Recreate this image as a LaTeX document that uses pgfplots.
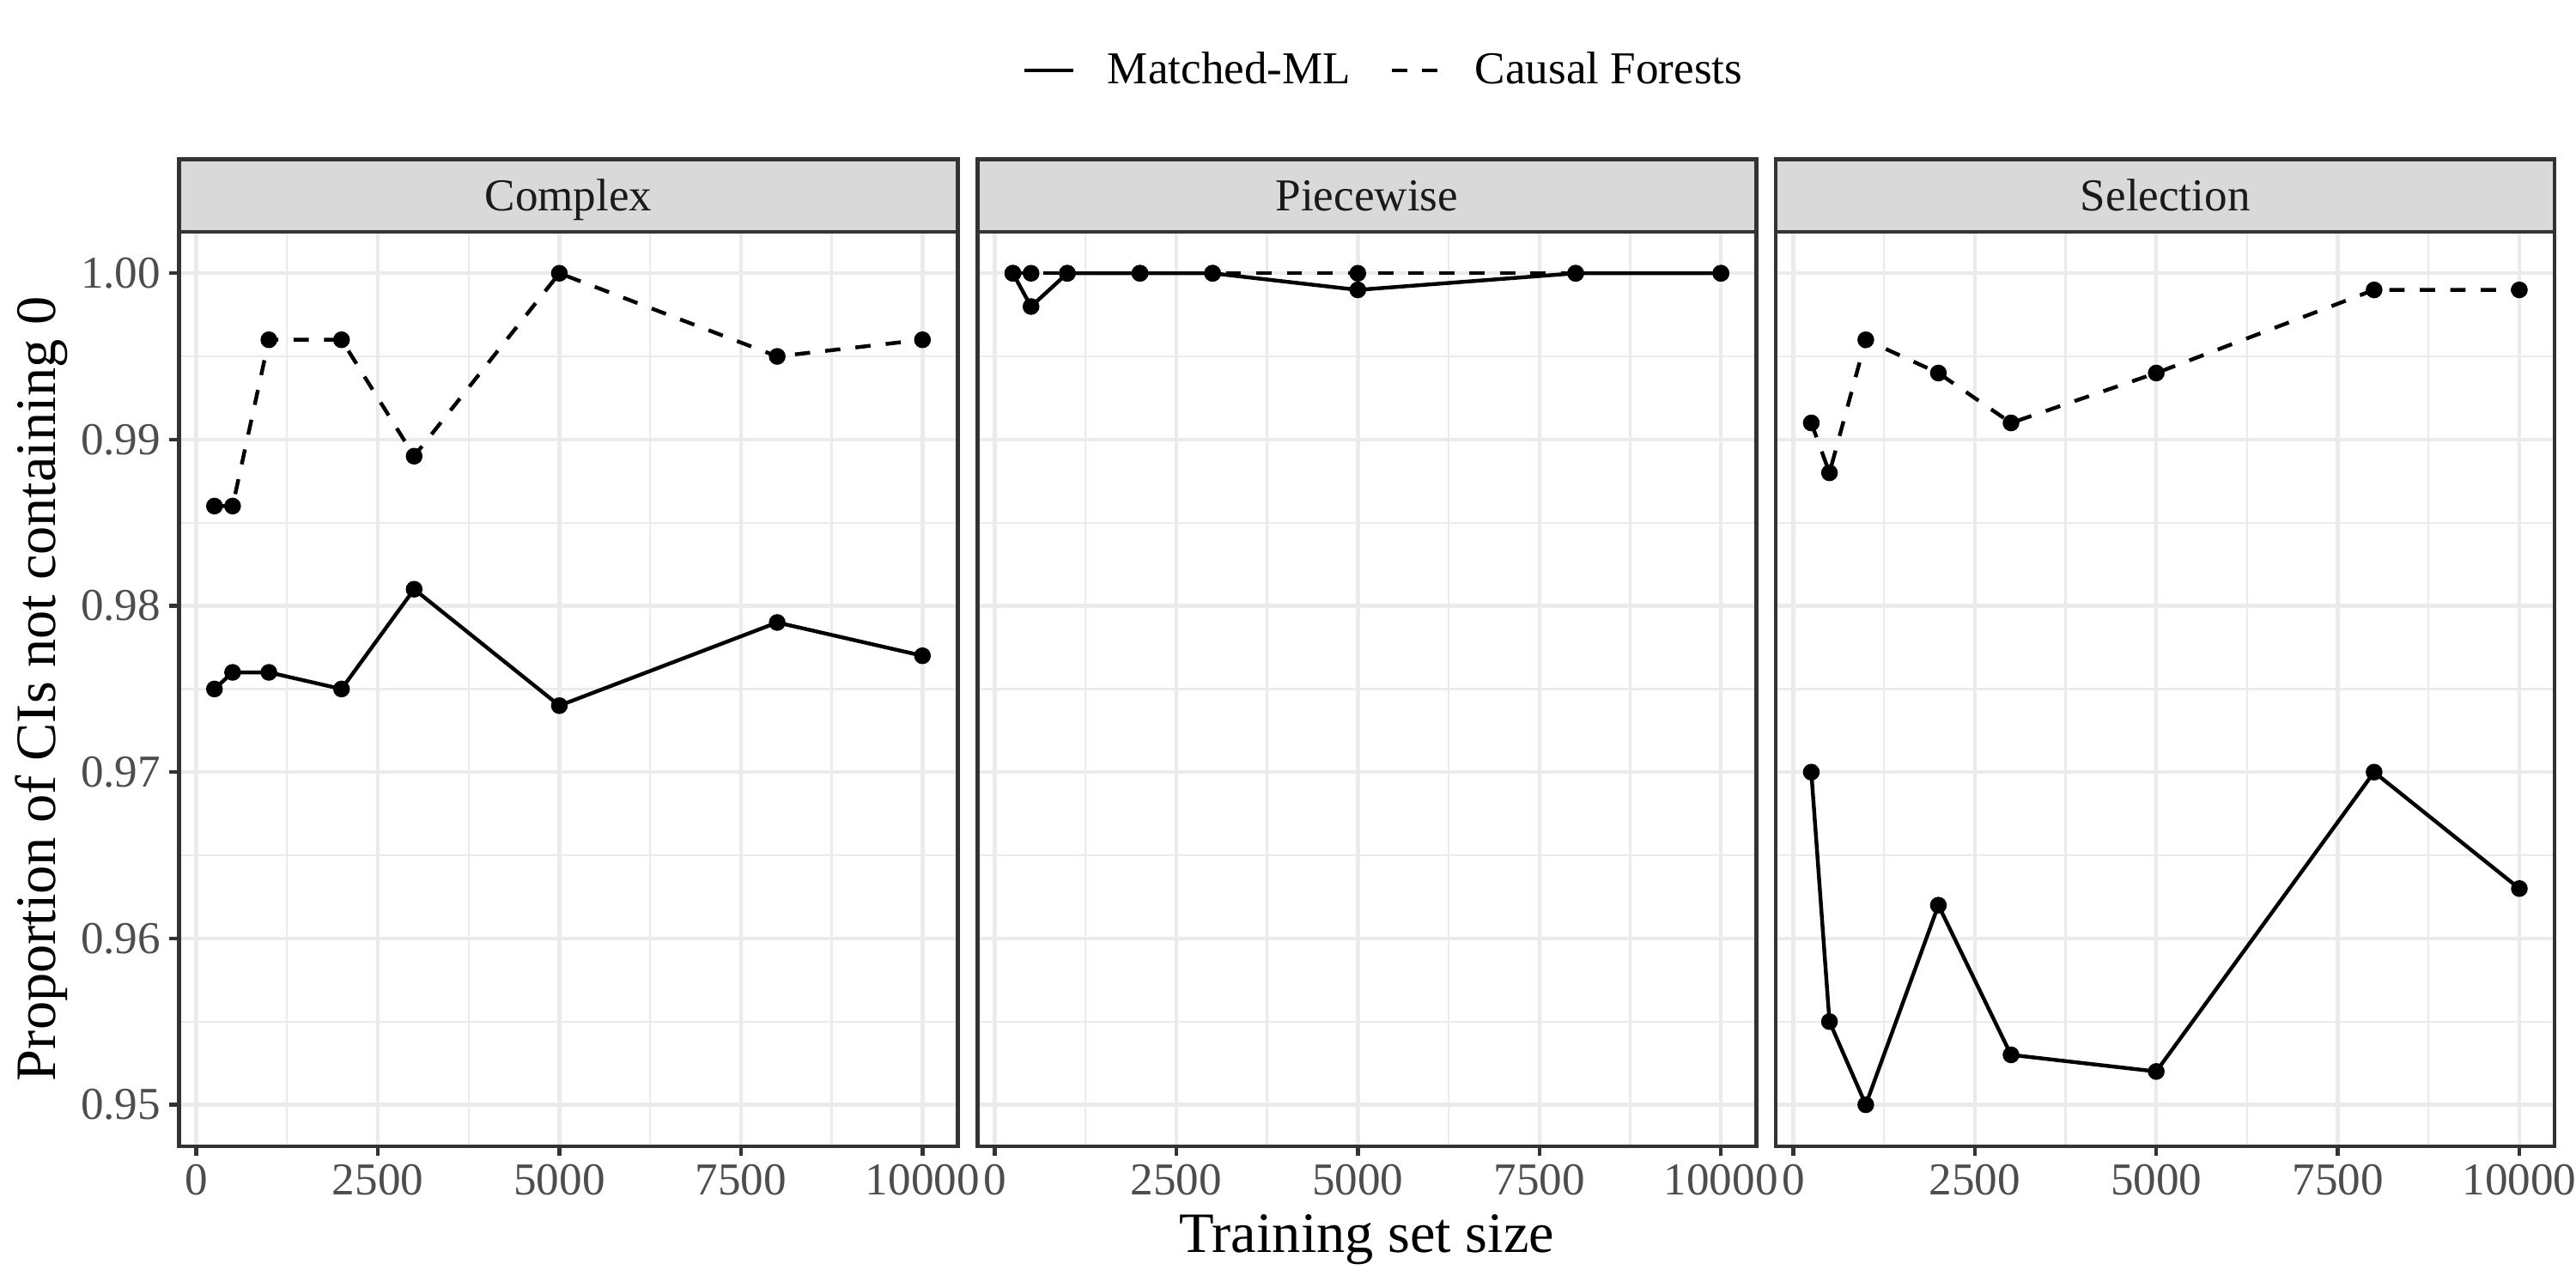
\documentclass[border=0pt]{standalone}
\usepackage{fontspec}
\setmainfont{Liberation Serif}
\usepackage{pgfplots}
\pgfplotsset{compat=1.18}
\usepackage{pgfplotstable}

\definecolor{g92}{HTML}{EBEBEB}
\definecolor{g85}{HTML}{D9D9D9}
\definecolor{g20}{HTML}{333333}
\definecolor{g30}{HTML}{4D4D4D}
\definecolor{g10}{HTML}{1A1A1A}

\pgfplotstableread{
x ml cf
250 0.975 0.986
500 0.976 0.986
1000 0.976 0.996
2000 0.975 0.996
3000 0.981 0.989
5000 0.974 1.000
8000 0.979 0.995
10000 0.977 0.996
}\complexdata

\pgfplotstableread{
x ml cf
250 1.000 1.000
500 0.998 1.000
1000 1.000 1.000
2000 1.000 1.000
3000 1.000 1.000
5000 0.999 1.000
8000 1.000 1.000
10000 1.000 1.000
}\piecewisedata

\pgfplotstableread{
x ml cf
250 0.970 0.991
500 0.955 0.988
1000 0.950 0.996
2000 0.962 0.994
3000 0.953 0.991
5000 0.952 0.994
8000 0.970 0.999
10000 0.963 0.999
}\selectiondata

\newcommand{\smallfont}{\fontsize{12.8}{15}\selectfont}
\newcommand{\bigfont}{\fontsize{16}{19}\selectfont}

\pgfplotsset{
  panel/.style={
    scale only axis, width=218.5pt, height=256.6pt,
    anchor=south west,
    xmin=-237.5, xmax=10487.5, ymin=0.9475, ymax=1.0025,
    scaled x ticks=false, scaled y ticks=false,
    xtick={0,2500,5000,7500,10000},
    xticklabels={0,2500,5000,7500,10000},
    ytick={0.95,0.96,0.97,0.98,0.99,1.00},
    yticklabels={0.95,0.96,0.97,0.98,0.99,1.00},
    minor x tick num=1, minor y tick num=1,
    grid=both,
    major grid style={draw=g92, line width=1.07pt},
    minor grid style={draw=g92, line width=0.53pt},
    tick align=outside, major tick length=2.75pt, minor tick length=0pt,
    xtick pos=bottom, ytick pos=left,
    tick style={draw=g20, line width=1.07pt},
    axis line style={draw=g20, line width=1.07pt},
    ticklabel style={font=\smallfont, text=g30, inner sep=0pt},
    xticklabel style={anchor=north, yshift=-2.2pt},
    yticklabel style={anchor=east, xshift=-2.2pt},
    clip mode=individual,
  },
  mlline/.style={black, line width=1.07pt, no markers},
  cfline/.style={black, line width=1.07pt, no markers, dash pattern=on 4.27pt off 4.27pt},
  pts/.style={only marks, mark=*, mark size=2.15pt, mark options={solid, fill=black, draw=black}},
}

\newcommand{\strip}[1]{%
  \draw[fill=g85, draw=g20, line width=1.07pt] (rel axis cs:0,1) rectangle ([yshift=20.3pt]rel axis cs:1,1);
  \node[font=\smallfont, text=g10, anchor=base] at ([yshift=5.9pt]rel axis cs:0.5,1) {#1};
}

\begin{document}
\begin{tikzpicture}
\useasboundingbox (-50.23pt,-39.75pt) rectangle (672.47pt,321.6pt);

% Complex
\begin{axis}[panel, at={(0pt,0pt)}]
\addplot[cfline, forget plot] table[x=x, y=cf] {\complexdata};
\addplot[mlline, forget plot] table[x=x, y=ml] {\complexdata};
\addplot[pts, forget plot] table[x=x, y=ml] {\complexdata};
\addplot[pts, forget plot] table[x=x, y=cf] {\complexdata};
\strip{Complex}
\node[rotate=90, font=\bigfont, anchor=center] at ([xshift=-38.7pt]rel axis cs:0,0.5) {Proportion of CIs not containing 0};
\end{axis}

% Piecewise
\begin{axis}[panel, at={(224pt,0pt)}, yticklabels={}, ytick style={draw=none},
  legend style={at={(0.52,1.1764)}, anchor=center, draw=none, fill=none,
    legend columns=-1, font=\smallfont, inner sep=0pt, nodes={inner sep=0pt},
    /tikz/every odd column/.append style={column sep=9pt},
    /tikz/every even column/.append style={column sep=11pt}},
  legend image code/.code={\draw[#1] (0pt,0pt) -- (13.8pt,0pt);}]
\addplot[cfline, forget plot] table[x=x, y=cf] {\piecewisedata};
\addplot[mlline, forget plot] table[x=x, y=ml] {\piecewisedata};
\addplot[pts, forget plot] table[x=x, y=ml] {\piecewisedata};
\addplot[pts, forget plot] table[x=x, y=cf] {\piecewisedata};
\addlegendimage{black, line width=1.07pt}
\addlegendentry{Matched-ML}
\addlegendimage{black, line width=1.07pt, dash pattern=on 4.27pt off 4.27pt}
\addlegendentry{Causal Forests}
\strip{Piecewise}
\node[font=\bigfont, anchor=base] at ([yshift=-29.75pt]rel axis cs:0.5,0) {Training set size};
\end{axis}

% Selection
\begin{axis}[panel, at={(448pt,0pt)}, yticklabels={}, ytick style={draw=none}]
\addplot[cfline, forget plot] table[x=x, y=cf] {\selectiondata};
\addplot[mlline, forget plot] table[x=x, y=ml] {\selectiondata};
\addplot[pts, forget plot] table[x=x, y=ml] {\selectiondata};
\addplot[pts, forget plot] table[x=x, y=cf] {\selectiondata};
\strip{Selection}
\end{axis}
\end{tikzpicture}
\end{document}
